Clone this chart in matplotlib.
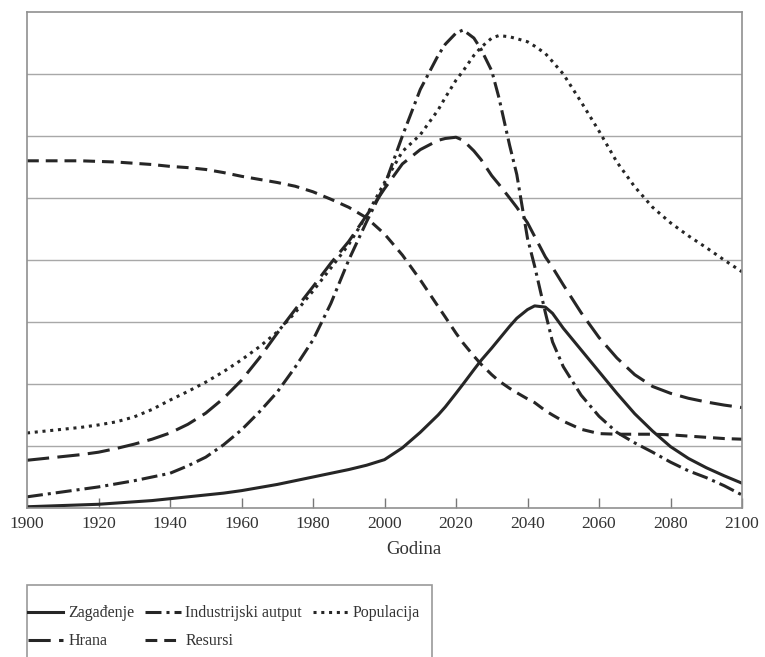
import matplotlib
matplotlib.use("Agg")
import matplotlib.pyplot as plt
from matplotlib.patches import Rectangle

plt.rcParams['font.family'] = ['Liberation Serif', 'DejaVu Serif']
plt.rcParams['lines.scale_dashes'] = False

years = [1900, 1905, 1910, 1915, 1920, 1925, 1930, 1935, 1940, 1945,
         1950, 1955, 1960, 1965, 1970, 1975, 1980, 1985, 1990, 1995,
         2000, 2005, 2010, 2015, 2017, 2020, 2022, 2025, 2027, 2030,
         2032, 2035, 2037, 2040, 2042, 2045, 2047,
         2050, 2055, 2060, 2065, 2070, 2075, 2080, 2085, 2090, 2095, 2100]

zagadjenje = [0.02, 0.03, 0.04, 0.05, 0.06, 0.08, 0.10, 0.12, 0.15, 0.18,
              0.21, 0.24, 0.28, 0.33, 0.38, 0.44, 0.50, 0.56, 0.62, 0.69,
              0.78, 0.97, 1.22, 1.50, 1.63, 1.85, 2.00, 2.23, 2.38, 2.58,
              2.72, 2.93, 3.06, 3.20, 3.26, 3.24, 3.14,
              2.90, 2.55, 2.20, 1.85, 1.52, 1.24, 0.99, 0.80, 0.65, 0.52, 0.40]

industrija = [0.18, 0.22, 0.26, 0.30, 0.34, 0.39, 0.44, 0.50, 0.56, 0.68,
              0.82, 1.02, 1.26, 1.55, 1.87, 2.27, 2.71, 3.30, 4.00, 4.62,
              5.20, 6.00, 6.75, 7.30, 7.48, 7.66, 7.71, 7.58, 7.40, 7.05,
              6.62, 5.85, 5.38, 4.35, 3.90, 3.15, 2.68,
              2.28, 1.82, 1.48, 1.22, 1.05, 0.90, 0.74, 0.60, 0.49, 0.36, 0.21]

hrana = [0.77, 0.80, 0.83, 0.86, 0.90, 0.96, 1.03, 1.11, 1.21, 1.35,
         1.53, 1.77, 2.06, 2.42, 2.82, 3.20, 3.57, 3.95, 4.30, 4.72,
         5.15, 5.55, 5.78, 5.93, 5.96, 5.98, 5.93, 5.76, 5.62, 5.36,
         5.22, 5.00, 4.85, 4.60, 4.38, 4.05, 3.88,
         3.60, 3.15, 2.75, 2.42, 2.15, 1.96, 1.85, 1.77, 1.71, 1.66, 1.62]

resursi = [5.60, 5.60, 5.60, 5.60, 5.59, 5.58, 5.56, 5.54, 5.51, 5.49,
           5.46, 5.41, 5.35, 5.30, 5.25, 5.19, 5.10, 4.98, 4.85, 4.68,
           4.42, 4.08, 3.68, 3.25, 3.08, 2.82, 2.66, 2.45, 2.32, 2.15,
           2.05, 1.93, 1.86, 1.76, 1.70, 1.57, 1.50,
           1.40, 1.27, 1.20, 1.19, 1.19, 1.19, 1.18, 1.16, 1.14, 1.12, 1.11]

populacija = [1.21, 1.24, 1.27, 1.30, 1.34, 1.39, 1.47, 1.59, 1.74, 1.88,
              2.03, 2.20, 2.39, 2.60, 2.84, 3.15, 3.50, 3.87, 4.25, 4.72,
              5.25, 5.75, 6.02, 6.42, 6.62, 6.90, 7.05, 7.30, 7.43, 7.58,
              7.62, 7.60, 7.57, 7.52, 7.45, 7.33, 7.20,
              7.00, 6.55, 6.08, 5.58, 5.18, 4.85, 4.60, 4.39, 4.20, 4.00, 3.81]

xticks = [1900, 1920, 1940, 1960, 1980, 2000, 2020, 2040, 2060, 2080, 2100]
labels = ['Zagađenje', 'Hrana', 'Industrijski autput', 'Resursi', 'Populacija']

ink = '#262626'
lw = 2.2

fig = plt.figure(figsize=(7.65, 6.57), dpi=100)
ax = fig.add_axes([27/765, 1 - 508/657, 715/765, 496/657])

h_z, = ax.plot(years, zagadjenje, color=ink, lw=lw, ls='-')
h_h, = ax.plot(years, hrana, color=ink, lw=lw, ls=(0, (16, 6)))
h_i, = ax.plot(years, industrija, color=ink, lw=lw, ls=(0, (11.5, 3.6, 2.2, 3.6)))
h_r, = ax.plot(years, resursi, color=ink, lw=lw, ls=(0, (8.5, 5)))
h_p, = ax.plot(years, populacija, color=ink, lw=lw, ls=(0, (2.2, 3.4)))

ax.set_xlim(1900, 2100)
ax.set_ylim(0, 8)
ax.set_yticks(range(1, 8))
ax.set_yticklabels([])
ax.tick_params(axis='y', length=0)
ax.grid(axis='y', color='#a8a8a8', lw=1.0)
ax.set_axisbelow(True)
ax.set_xticks(xticks)
ax.set_xticklabels([str(t) for t in xticks])
ax.tick_params(axis='x', direction='in', length=7, width=1.0, color='#777777',
               labelsize=12.5, pad=6, labelcolor='#333333')
for s in ax.spines.values():
    s.set_color('#909090')
    s.set_linewidth(1.2)

ax.set_xlabel('Godina', fontsize=13.5, color='#333333')
ax.xaxis.set_label_coords((414 - 27) / 715, (508 - 550) / 496)
ax.xaxis.label.set_va('center')

# legend box (extends beyond bottom edge like the reference)
fig.patches.append(Rectangle((27/765, -0.05), 405/765, 0.05 + (657 - 585)/657,
                             transform=fig.transFigure, fill=False,
                             edgecolor='#999999', lw=1.2))

leg = fig.legend([h_z, h_h, h_i, h_r, h_p], labels, ncol=3, frameon=False,
                 loc='upper left', bbox_to_anchor=(17/765, (657 - 594)/657),
                 fontsize=11.5, handlelength=2.2, handletextpad=0.3,
                 columnspacing=0.7, labelspacing=0.75, borderpad=0.2)
for t in leg.get_texts():
    t.set_color('#333333')

fig.savefig('out.png', dpi=100, facecolor='white')
